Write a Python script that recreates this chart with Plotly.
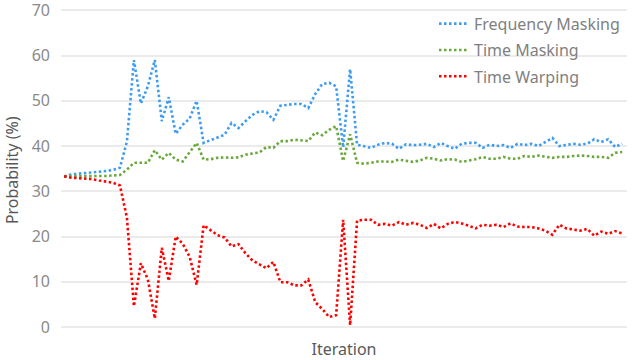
import plotly.graph_objects as go

iterations = list(range(81))

freq_masking = [
    33.3, 33.7, 33.9, 34.0, 34.1, 34.3, 34.5, 34.7, 35.2, 41.0,
    59.0, 49.4, 53.2, 59.0, 45.5, 50.8, 42.7, 44.7, 46.1, 50.0,
    40.7, 41.3, 42.0, 42.5, 45.1, 44.0, 45.5, 46.9, 47.7, 47.5,
    45.8, 48.9, 49.1, 49.3, 49.3, 48.4, 51.5, 53.7, 54.0, 53.2,
    39.7, 57.0, 40.3, 40.0, 39.6, 40.3, 40.7, 40.5, 39.4, 40.4,
    40.2, 40.3, 40.5, 39.8, 40.7, 40.0, 39.4, 40.5, 40.7, 40.7,
    39.6, 40.3, 40.0, 40.2, 39.6, 40.5, 40.2, 40.5, 40.0, 40.9,
    41.8, 40.0, 40.3, 40.5, 40.3, 40.5, 41.5, 40.9, 41.5, 39.8,
    40.5,
]

time_masking = [
    33.3, 33.3, 33.3, 33.3, 33.3, 33.3, 33.4, 33.5, 33.6, 34.8,
    36.3, 36.3, 36.3, 39.1, 37.0, 38.5, 37.0, 36.6, 38.6, 40.7,
    37.0, 37.1, 37.4, 37.5, 37.4, 37.5, 38.1, 38.3, 38.6, 39.8,
    39.6, 41.1, 41.1, 41.4, 41.3, 41.1, 43.0, 42.4, 43.6, 44.4,
    36.7, 42.6, 36.3, 36.1, 36.3, 36.6, 36.6, 36.5, 37.0, 36.7,
    36.5, 36.8, 37.4, 37.2, 36.8, 37.1, 37.0, 36.5, 36.8, 37.1,
    37.6, 37.2, 37.2, 37.6, 37.2, 37.2, 37.8, 37.6, 37.9, 37.6,
    37.4, 37.6, 37.6, 37.8, 37.9, 37.8, 37.6, 37.6, 37.4, 38.5,
    38.7,
]

time_warping = [
    33.3, 33.0, 32.9, 32.8, 32.7, 32.4, 32.1, 31.9, 31.3, 24.2,
    4.6, 14.1, 10.5, 1.9, 17.5, 10.2, 20.0, 18.4, 15.5, 9.3,
    22.5, 21.4, 20.3, 19.8, 17.8, 18.3, 16.3, 14.7, 13.9, 13.0,
    14.4, 9.9, 9.9, 9.2, 9.2, 10.5, 5.5, 4.0, 2.2, 2.6,
    23.7, 0.4, 23.5, 23.7, 23.7, 22.6, 22.8, 22.4, 23.2, 22.6,
    23.0, 22.6, 21.9, 22.8, 21.8, 22.8, 23.2, 22.9, 22.4, 21.8,
    22.6, 22.4, 22.6, 22.1, 22.9, 22.2, 22.1, 22.1, 21.8, 21.3,
    20.4, 22.6, 21.8, 21.5, 21.3, 21.7, 20.2, 21.1, 20.6, 21.2,
    20.7,
]

series_names = ["Frequency Masking", "Time Masking", "Time Warping"]
series_colors = ["#3d9cf2", "#6aa83c", "#ff0000"]
series_values = [freq_masking, time_masking, time_warping]

y_ticks = [0, 10, 20, 30, 40, 50, 60, 70]

FONT = "Noto Sans"

fig = go.Figure()
for name, color, vals in zip(series_names, series_colors, series_values):
    fig.add_trace(go.Scatter(
        x=iterations, y=vals, name=name, mode="lines",
        legendgroup=name,
        line=dict(color=color, width=2.6, dash="2.5px,2.5px"),
    ))

fig.update_layout(
    width=640, height=360,
    margin=dict(l=61, r=13, t=7, b=33),
    paper_bgcolor="white", plot_bgcolor="white",
    font=dict(family=FONT, size=16, color="#8a8a8a"),
    showlegend=True,
    legend=dict(
        x=0.659, y=1.007, xanchor="left", yanchor="top",
        bgcolor="rgba(0,0,0,0)", borderwidth=0,
        font=dict(family=FONT, size=16, color="#7f7f7f"),
        tracegroupgap=2.5, traceorder="grouped",
    ),
    xaxis=dict(
        range=[-0.45, 80.7], showgrid=False, zeroline=False,
        showticklabels=False, showline=False, ticks="",
        title=dict(text="Iteration", font=dict(family=FONT, size=16, color="#595959"), standoff=17),
        automargin=False,
    ),
    yaxis=dict(
        range=[0, 70.3], tickvals=y_ticks, ticktext=[str(t) for t in y_ticks],
        showgrid=True, gridcolor="#ebebeb", gridwidth=1.5,
        zeroline=True, zerolinecolor="#ebebeb", zerolinewidth=1.5,
        showline=False, ticks="", ticklabelstandoff=10,
        ticklabeloverflow="allow",
        tickfont=dict(family=FONT, size=16, color="#8a8a8a"),
        automargin=False,
    ),
    annotations=[dict(
        text="Probability (%)", textangle=-90, showarrow=False,
        xref="paper", yref="paper", x=-0.0862, y=0.494,
        xanchor="center", yanchor="middle",
        font=dict(family=FONT, size=16, color="#595959"),
    )],
)

fig.write_html("out.html", config={"displayModeBar": False},
               post_script="document.body.style.margin='0px';")
